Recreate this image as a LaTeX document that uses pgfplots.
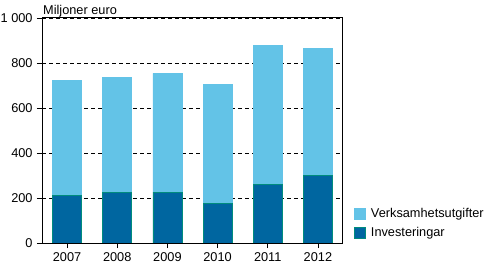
\documentclass[border=0pt]{standalone}
\usepackage{fontspec}
\setmainfont{Liberation Sans}
\usepackage{pgfplots}
\pgfplotsset{compat=1.18}
\definecolor{lightb}{RGB}{99,195,231}
\definecolor{darkb}{RGB}{0,102,160}
\definecolor{edgeg}{RGB}{0,140,125}
\begin{document}
\fontsize{12.8}{14}\selectfont
\begin{tikzpicture}
\useasboundingbox (0,0) rectangle (492bp,266bp);
\begin{axis}[
 at={(42bp,23bp)}, anchor=south west,
 scale only axis, width=301bp, height=225bp,
 ybar stacked, bar width=29bp,
 xmin=-0.5, xmax=5.5, ymin=0, ymax=1000,
 xtick=data, xticklabels={2007,2008,2009,2010,2011,2012},
 ytick={0,200,400,600,800,1000},
 ymajorgrids, grid style={black, line width=0.8bp, dash pattern=on 4bp off 3bp},
 tick style={black, line width=0.8bp}, major tick length=5bp, tick align=outside,
 xtick pos=bottom, ytick pos=left,
 axis line style={line width=1bp},
 /pgf/number format/assume math mode=true,
 /pgf/number format/1000 sep={\ },
 tick label style={font=\fontsize{12.8}{14}\selectfont},
 legend style={at={(1,0)}, anchor=south west, xshift=8bp, yshift=0bp, draw=none, fill=none,
   font=\fontsize{12.8}{14}\selectfont, row sep=4bp, cells={anchor=west},
   nodes={inner xsep=5bp}},
 reverse legend,
 legend image code/.code={\draw[#1] (0bp,-5.5bp) rectangle (11bp,5.5bp);},
]
\addplot[fill=darkb, draw=edgeg, line width=0.8bp] coordinates {(0,213) (1,226) (2,226) (3,177) (4,259) (5,299)};
\addlegendentry{Investeringar}
\addplot[fill=lightb, draw=lightb, line width=0.5bp] coordinates {(0,510) (1,510) (2,528) (3,528) (4,620) (5,567)};
\addlegendentry{Verksamhetsutgifter}
\end{axis}
\node[anchor=base west, inner sep=0pt] at (43bp,251bp) {Miljoner euro};
\end{tikzpicture}
\end{document}
